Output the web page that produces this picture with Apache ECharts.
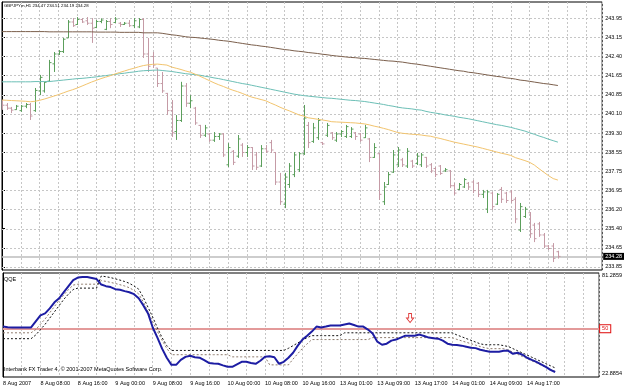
<!DOCTYPE html>
<html>
<head>
<meta charset="utf-8">
<script src="https://cdn.jsdelivr.net/npm/echarts@6/dist/echarts.min.js"></script>
<style>
html, body { margin: 0; padding: 0; background: #fff; }
#chart { width: 625px; height: 388px; }
</style>
</head>
<body>
<div id="chart"></div>
<script>
const symbolName = 'GBPJPYm,H1'
const indicatorName = 'QQE'
const footerText = 'Interbank FX Trader 4, © 2001-2007 MetaQuotes Software Corp.'

// one label every 8 hourly bars
const timeLabels = ['8 Aug 2007', '8 Aug 08:00', '8 Aug 16:00', '9 Aug 00:00', '9 Aug 08:00', '9 Aug 16:00',
  '10 Aug 00:00', '10 Aug 08:00', '10 Aug 16:00', '13 Aug 01:00', '13 Aug 09:00', '13 Aug 17:00',
  '14 Aug 01:00', '14 Aug 09:00', '14 Aug 17:00']

const priceLabels = ['233.85', '234.65', '235.40', '236.20', '236.95', '237.75', '238.55',
  '239.30', '240.10', '240.85', '241.65', '242.40', '243.15', '243.95']

const qqeTop = 81.2859
const qqeBottom = 22.8854
const qqeLevel = 50

// H1 bars, 8 Aug 00:00 .. 14 Aug 23:00
const opens = [
  240.50, 240.42, 240.30, 240.24, 240.20, 240.38, 240.45, 240.20, 241.00, 241.00,
  241.40, 242.10, 242.50, 242.60, 243.15, 243.80, 243.70, 243.90, 243.85, 243.75,
  243.58, 243.82, 243.50, 243.82, 243.78, 243.75, 243.70, 243.75, 243.65, 243.60,
  243.90, 242.50, 242.40, 241.93, 241.30, 240.90, 240.20, 239.35, 239.80, 241.20,
  240.50, 240.30, 239.60, 239.20, 239.25, 239.00, 239.15, 239.25, 238.00, 238.55,
  238.35, 238.80, 238.50, 238.70, 238.40, 237.95, 238.65, 238.90, 238.50, 237.30,
  236.40, 237.20, 237.60, 237.80, 238.45, 239.60, 238.95, 239.10, 238.90, 239.20,
  239.30, 239.00, 239.25, 239.15, 239.15, 239.30, 239.25, 239.10, 239.05, 238.30,
  238.45, 236.50, 237.20, 237.70, 238.00, 238.20, 237.95, 238.15, 238.05, 238.00,
  238.30, 238.00, 237.85, 237.95, 237.75, 237.75, 237.15, 237.00, 237.10, 237.25,
  237.30, 237.25, 236.80, 236.20, 236.85, 236.40, 237.00, 236.85, 236.90, 236.60,
  235.35, 235.90, 236.05, 235.55, 235.60, 235.15, 234.70, 234.70, 234.47]
const highs = [
  240.63, 240.51, 240.35, 240.43, 240.43, 240.51, 240.51, 241.12, 241.65, 241.37,
  242.26, 242.58, 242.66, 243.15, 243.88, 243.96, 244.00, 243.96, 244.00, 243.96,
  243.88, 243.95, 243.88, 243.96, 244.00, 243.80, 243.80, 243.88, 243.96, 243.96,
  243.96, 243.15, 242.58, 241.93, 241.77, 240.92, 240.63, 240.02, 241.37, 241.32,
  240.83, 240.35, 239.62, 239.62, 239.29, 239.33, 239.29, 239.29, 238.88, 238.60,
  239.21, 238.88, 238.80, 238.72, 238.52, 238.80, 238.80, 239.01, 238.52, 237.67,
  237.67, 238.07, 238.52, 238.52, 240.43, 239.74, 239.70, 239.90, 238.93, 239.70,
  239.33, 239.33, 239.41, 239.62, 239.53, 239.33, 239.29, 239.62, 239.09, 238.88,
  238.48, 237.30, 237.71, 238.60, 238.72, 238.28, 238.68, 238.20, 238.48, 238.48,
  238.32, 238.07, 237.91, 237.99, 237.87, 237.79, 237.26, 237.26, 237.46, 237.30,
  237.38, 237.30, 236.98, 236.98, 236.90, 236.85, 237.10, 236.90, 236.98, 236.69,
  236.45, 236.29, 236.08, 235.64, 235.68, 235.23, 234.74, 234.82, 234.51]
const lows = [
  240.23, 240.23, 240.10, 240.23, 240.15, 240.30, 239.82, 240.15, 240.83, 240.93,
  241.37, 241.77, 242.46, 242.54, 243.15, 243.60, 243.68, 243.76, 243.68, 242.95,
  243.55, 243.75, 243.47, 243.55, 243.76, 243.60, 243.68, 243.60, 243.55, 243.55,
  242.34, 241.77, 241.93, 241.16, 240.92, 240.02, 239.13, 239.01, 239.74, 240.35,
  240.30, 239.62, 239.09, 239.13, 238.93, 238.93, 239.01, 238.32, 237.91, 237.99,
  238.28, 238.32, 238.32, 237.79, 237.79, 237.91, 238.48, 238.48, 237.18, 236.37,
  236.24, 237.06, 237.50, 237.71, 238.40, 238.68, 238.89, 239.01, 238.80, 239.13,
  239.01, 238.93, 239.13, 239.09, 239.09, 239.01, 238.93, 239.09, 238.11, 238.28,
  236.57, 236.37, 237.18, 237.67, 237.91, 237.91, 237.87, 237.87, 237.99, 237.91,
  237.87, 237.67, 237.50, 237.59, 237.71, 237.06, 236.77, 236.98, 237.06, 236.98,
  236.85, 236.69, 236.65, 236.04, 236.17, 236.37, 236.45, 236.45, 236.45, 235.63,
  235.27, 235.84, 235.03, 234.86, 235.07, 234.62, 234.54, 234.05, 234.19]
const closes = [
  240.42, 240.30, 240.22, 240.38, 240.38, 240.45, 239.98, 241.02, 241.55, 241.35,
  242.15, 242.50, 242.60, 243.10, 243.80, 243.65, 243.90, 243.80, 243.75, 243.55,
  243.82, 243.88, 243.82, 243.70, 243.92, 243.70, 243.75, 243.65, 243.85, 243.90,
  242.50, 242.00, 242.05, 241.30, 241.00, 240.20, 239.30, 239.80, 241.20, 240.50,
  240.60, 239.70, 239.20, 239.50, 239.00, 239.15, 239.25, 238.40, 238.70, 238.10,
  239.05, 238.50, 238.70, 237.95, 237.90, 238.65, 238.55, 238.60, 237.30, 236.50,
  237.50, 237.95, 238.40, 238.45, 239.90, 238.90, 239.50, 239.80, 238.85, 239.60,
  239.10, 239.25, 239.35, 239.55, 239.45, 239.15, 239.00, 239.50, 238.30, 238.70,
  236.80, 237.10, 237.60, 238.40, 238.60, 238.00, 238.55, 237.95, 238.35, 238.40,
  237.95, 237.75, 237.60, 237.65, 237.80, 237.15, 236.85, 237.20, 237.40, 237.10,
  236.95, 236.80, 236.90, 236.90, 236.30, 236.80, 236.60, 236.55, 236.55, 235.80,
  236.30, 236.20, 235.20, 235.00, 235.15, 234.70, 234.60, 234.20, 234.28]

// moving averages (slow / mid / fast)
const maSlow = [
  243.41, 243.41, 243.41, 243.41, 243.41, 243.41, 243.41, 243.41, 243.41, 243.41,
  243.40, 243.40, 243.40, 243.40, 243.40, 243.40, 243.40, 243.40, 243.40, 243.40,
  243.39, 243.39, 243.39, 243.39, 243.39, 243.38, 243.38, 243.38, 243.38, 243.38,
  243.36, 243.36, 243.36, 243.36, 243.34, 243.31, 243.28, 243.26, 243.23, 243.20,
  243.18, 243.17, 243.15, 243.13, 243.11, 243.09, 243.06, 243.04, 243.02, 242.99,
  242.96, 242.93, 242.90, 242.87, 242.85, 242.82, 242.80, 242.77, 242.74, 242.71,
  242.68, 242.66, 242.63, 242.61, 242.59, 242.56, 242.54, 242.52, 242.49, 242.47,
  242.44, 242.42, 242.40, 242.38, 242.36, 242.35, 242.33, 242.32, 242.30, 242.28,
  242.26, 242.24, 242.22, 242.21, 242.19, 242.17, 242.14, 242.11, 242.09, 242.06,
  242.03, 242.00, 241.97, 241.94, 241.91, 241.88, 241.85, 241.82, 241.80, 241.76,
  241.74, 241.71, 241.68, 241.65, 241.62, 241.59, 241.57, 241.53, 241.51, 241.48,
  241.44, 241.42, 241.39, 241.36, 241.33, 241.30, 241.28, 241.25, 241.22]
const maMid = [
  241.37, 241.37, 241.37, 241.37, 241.37, 241.37, 241.37, 241.38, 241.38, 241.38,
  241.38, 241.40, 241.42, 241.44, 241.46, 241.48, 241.50, 241.51, 241.53, 241.55,
  241.57, 241.60, 241.62, 241.65, 241.67, 241.70, 241.72, 241.75, 241.77, 241.80,
  241.82, 241.83, 241.84, 241.85, 241.83, 241.81, 241.79, 241.76, 241.73, 241.70,
  241.68, 241.66, 241.64, 241.60, 241.57, 241.53, 241.50, 241.46, 241.42, 241.38,
  241.34, 241.30, 241.27, 241.23, 241.19, 241.15, 241.11, 241.07, 241.03, 240.99,
  240.95, 240.91, 240.87, 240.84, 240.81, 240.79, 240.77, 240.75, 240.73, 240.71,
  240.70, 240.68, 240.66, 240.64, 240.62, 240.61, 240.59, 240.57, 240.54, 240.51,
  240.48, 240.45, 240.41, 240.38, 240.34, 240.31, 240.29, 240.27, 240.24, 240.22,
  240.17, 240.13, 240.10, 240.07, 240.03, 240.00, 239.97, 239.93, 239.90, 239.87,
  239.83, 239.79, 239.75, 239.71, 239.67, 239.63, 239.60, 239.56, 239.52, 239.47,
  239.42, 239.37, 239.30, 239.24, 239.17, 239.11, 239.04, 238.98, 238.92]
const maFast = [
  240.63, 240.62, 240.61, 240.60, 240.59, 240.58, 240.56, 240.58, 240.62, 240.67,
  240.73, 240.79, 240.85, 240.92, 240.99, 241.05, 241.12, 241.20, 241.28, 241.36,
  241.43, 241.50, 241.56, 241.62, 241.69, 241.75, 241.81, 241.87, 241.92, 241.98,
  242.03, 242.06, 242.08, 242.09, 242.07, 242.05, 241.97, 241.92, 241.87, 241.81,
  241.76, 241.68, 241.60, 241.51, 241.42, 241.33, 241.25, 241.18, 241.10, 241.03,
  240.97, 240.90, 240.82, 240.75, 240.70, 240.65, 240.60, 240.51, 240.43, 240.34,
  240.26, 240.19, 240.11, 240.03, 239.98, 239.91, 239.88, 239.85, 239.82, 239.79,
  239.75, 239.74, 239.73, 239.72, 239.71, 239.70, 239.68, 239.66, 239.62, 239.57,
  239.53, 239.48, 239.43, 239.37, 239.31, 239.28, 239.26, 239.24, 239.23, 239.21,
  239.18, 239.16, 239.11, 239.07, 239.02, 238.97, 238.92, 238.88, 238.84, 238.80,
  238.76, 238.72, 238.67, 238.62, 238.57, 238.52, 238.47, 238.43, 238.38, 238.29,
  238.23, 238.17, 238.10, 237.99, 237.84, 237.70, 237.56, 237.44, 237.38]

// QQE pane
const qqeMain = [
  51.2, 50.8, 50.7, 50.7, 50.7, 50.7, 50.7, 54.1, 57.5, 58.6,
  61.4, 64.8, 67.1, 70.5, 73.9, 77.3, 78.7, 79.0, 79.0, 78.5,
  77.9, 74.8, 73.9, 73.4, 72.2, 71.9, 71.1, 70.5, 69.4, 67.1,
  63.1, 58.6, 50.7, 45.0, 38.8, 33.7, 29.7, 29.7, 32.5, 34.2,
  34.8, 34.0, 33.7, 32.3, 30.8, 30.5, 30.3, 29.4, 28.6, 28.6,
  30.0, 31.4, 31.4, 30.8, 30.3, 32.0, 34.2, 34.5, 34.0, 30.3,
  31.4, 33.7, 36.5, 40.5, 43.9, 46.1, 48.4, 51.2, 50.7, 51.2,
  51.8, 51.8, 51.8, 52.4, 52.9, 52.1, 51.2, 51.2, 49.5, 47.3,
  42.7, 41.0, 41.6, 43.3, 43.9, 45.0, 46.1, 46.1, 46.1, 46.7,
  45.9, 45.0, 44.7, 44.4, 43.3, 41.6, 41.0, 40.8, 40.5, 39.9,
  39.3, 39.1, 38.2, 37.6, 37.1, 37.1, 37.1, 37.6, 37.6, 35.9,
  36.5, 35.4, 33.7, 32.5, 31.4, 30.0, 28.6, 26.9, 25.7]
const trailSlow = [
  44.4, 44.4, 44.4, 44.4, 44.4, 44.4, 44.4, 46.5, 49.5, 52.5,
  56.0, 59.5, 63.0, 66.5, 69.5, 72.0, 72.8, 72.8, 72.8, 72.8,
  72.8, 79.6, 79.2, 78.7, 78.0, 77.3, 76.5, 75.5, 74.0, 72.2,
  67.5, 62.0, 56.5, 50.5, 45.0, 40.5, 37.8, 37.8, 37.8, 37.8,
  37.8, 37.8, 37.8, 37.8, 37.8, 37.8, 37.8, 37.8, 37.8, 37.8,
  37.8, 37.8, 37.8, 37.8, 37.8, 37.8, 37.8, 37.8, 37.8, 37.8,
  37.8, 39.0, 40.5, 42.0, 43.5, 45.0, 46.1, 46.1, 46.1, 46.1,
  46.1, 46.1, 46.1, 47.7, 47.7, 47.7, 47.7, 47.7, 47.7, 47.7,
  47.7, 47.7, 47.7, 47.7, 47.7, 47.7, 47.7, 47.7, 47.7, 47.7,
  47.7, 47.7, 47.7, 47.7, 47.7, 47.7, 47.7, 46.5, 45.5, 44.5,
  43.5, 42.5, 41.5, 41.0, 41.0, 41.0, 41.0, 40.5, 40.0, 38.8,
  37.6, 36.4, 35.2, 34.0, 32.8, 31.6, 30.4, 29.2, 28.0]
const trailFast = [
  47.7, 47.7, 47.7, 47.7, 47.7, 47.7, 47.7, 49.5, 52.5, 55.5,
  59.0, 62.5, 66.0, 69.0, 72.0, 74.5, 75.0, 75.0, 75.0, 75.0,
  75.0, 77.0, 76.6, 76.0, 75.4, 74.7, 74.0, 73.0, 71.5, 69.5,
  65.0, 59.5, 54.0, 48.5, 43.5, 39.0, 35.4, 35.4, 35.4, 35.4,
  35.4, 35.4, 35.4, 35.4, 35.4, 35.4, 35.4, 35.4, 35.4, 34.2,
  34.2, 34.2, 34.2, 34.2, 34.2, 34.2, 34.2, 29.7, 29.7, 29.7,
  29.7, 29.7, 33.0, 36.0, 39.0, 41.5, 43.9, 43.9, 43.9, 43.9,
  43.9, 43.9, 43.9, 43.9, 43.9, 43.9, 43.9, 43.9, 43.9, 45.0,
  45.0, 45.0, 45.0, 45.0, 45.0, 45.0, 45.0, 45.0, 45.0, 45.0,
  45.0, 45.0, 45.0, 45.0, 45.0, 45.0, 45.0, 44.0, 43.2, 42.4,
  41.6, 40.8, 40.0, 39.3, 38.8, 38.8, 38.8, 38.8, 38.0, 36.8,
  35.6, 34.4, 33.2, 32.0, 30.8, 29.6, 28.4, 27.2, 26.0]

// sell arrow drawn on the QQE pane
const arrowBar = 87
const arrowValue = 56

// price scale: the terminal spaces its labels evenly, so tick k sits at base + k * step
const priceBase = 233.85
const priceStep = (243.95 - 233.85) / 13
const priceTicks = priceLabels.map((_, k) => priceBase + k * priceStep)

const last = opens.length - 1
const lastClose = closes[last]

const bars = opens.map((o, i) => [i, o, highs[i], lows[i], closes[i]])
const pairs = arr => arr.map((v, i) => [i, v])

const font = 'Liberation Sans'
const small = { fontFamily: font, fontSize: 5.5, color: '#000' }
const dotted = { color: '#c6c6c6', type: [2, 2], width: 1 }

const upColor = '#5c9f5c'
const downColor = '#c59ba6'

const chart = echarts.init(document.getElementById('chart'), null, { renderer: 'canvas' })

const option = {
  animation: false,
  backgroundColor: '#fff',
  title: [
    {
      text: symbolName + ' ' + [opens[last], highs[last], lows[last], closes[last]].map(v => v.toFixed(2)).join(' '),
      left: 4, top: 4, padding: 0,
      textStyle: { ...small, fontSize: 4.3, fontWeight: 'normal' }
    },
    { text: indicatorName, left: 4, top: 276, padding: 0, textStyle: { ...small, fontWeight: 'normal' } },
    { text: footerText, left: 4, top: 366, padding: 0, textStyle: { ...small, fontWeight: 'normal' } }
  ],
  grid: [
    { left: 2, top: 2, width: 601, height: 268, show: true, borderColor: '#000', borderWidth: 1, backgroundColor: '#fff' },
    { left: 2, top: 273, width: 601, height: 104, show: true, borderColor: '#000', borderWidth: 1, backgroundColor: '#fff' }
  ],
  xAxis: [
    {
      gridIndex: 0, type: 'value', min: 0, max: 127.4, interval: 4,
      axisLine: { show: false }, axisTick: { show: false }, axisLabel: { show: false },
      splitLine: { show: true, lineStyle: dotted }
    },
    {
      gridIndex: 1, type: 'value', min: 0, max: 127.4, interval: 4,
      axisLine: { show: false }, axisTick: { show: false },
      axisLabel: {
        ...small, margin: 3, align: 'left', showMaxLabel: false,
        formatter: v => (v % 8 === 0 && timeLabels[v / 8]) || ''
      },
      splitLine: { show: true, lineStyle: dotted }
    }
  ],
  yAxis: [
    {
      gridIndex: 0, type: 'value', position: 'right',
      min: 233.727, max: 244.612,
      axisLine: { show: true, lineStyle: { color: '#000' } },
      axisTick: { show: true, length: 3, lineStyle: { color: '#000' }, customValues: priceTicks },
      axisLabel: {
        ...small, margin: 3, customValues: priceTicks,
        formatter: v => priceLabels[Math.round((v - priceBase) / priceStep)] || ''
      },
      splitLine: { show: false }
    },
    {
      gridIndex: 1, type: 'value', position: 'right',
      min: qqeBottom, max: qqeTop,
      axisLine: { show: true, lineStyle: { color: '#000' } },
      axisTick: { show: false },
      axisLabel: {
        margin: 3,
        formatter: v => {
          if (Math.abs(v - qqeTop) < 1e-6) return '{t|' + qqeTop.toFixed(4) + '}'
          if (Math.abs(v - qqeBottom) < 1e-6) return '{b|' + qqeBottom.toFixed(4) + '}'
          return ''
        },
        rich: {
          t: { ...small, padding: [5, 0, 0, 0] },
          b: { ...small, padding: [0, 0, 7, 0] }
        }
      },
      splitLine: { show: false }
    }
  ],
  series: [
    {
      name: 'price',
      type: 'custom',
      xAxisIndex: 0, yAxisIndex: 0,
      clip: true,
      z: 3,
      encode: { x: 0, y: [1, 2, 3, 4] },
      data: bars,
      renderItem: (params, api) => {
        const x = api.value(0)
        const o = api.coord([x, api.value(1)])
        const h = api.coord([x, api.value(2)])
        const l = api.coord([x, api.value(3)])
        const c = api.coord([x, api.value(4)])
        const color = api.value(4) >= api.value(1) ? upColor : downColor
        const px = Math.round(h[0]) + 0.5
        const st = { stroke: color, lineWidth: 1 }
        return {
          type: 'group',
          children: [
            { type: 'line', shape: { x1: px, y1: h[1], x2: px, y2: l[1] }, style: st },
            { type: 'line', shape: { x1: px - 2, y1: o[1], x2: px, y2: o[1] }, style: st },
            { type: 'line', shape: { x1: px, y1: c[1], x2: px + 2, y2: c[1] }, style: st }
          ]
        }
      }
    },
    {
      name: 'MA slow', type: 'line', xAxisIndex: 0, yAxisIndex: 0, z: 4,
      data: pairs(maSlow), showSymbol: false, lineStyle: { color: '#7b5f4c', width: 1 },
      markLine: {
        silent: true, symbol: 'none', z: 1,
        data: [
          // horizontal price grid
          ...priceTicks.map(v => ({ yAxis: v, lineStyle: dotted, label: { show: false } })),
          // current price
          {
            yAxis: lastClose,
            lineStyle: { color: '#bdbdbd', type: 'solid', width: 1.5 },
            label: {
              show: true, position: 'end', distance: 1, formatter: lastClose.toFixed(2),
              backgroundColor: '#000', color: '#fff', padding: [1, 2, 0, 2],
              fontFamily: font, fontSize: 5.5
            }
          }
        ]
      }
    },
    {
      name: 'MA mid', type: 'line', xAxisIndex: 0, yAxisIndex: 0, z: 4,
      data: pairs(maMid), showSymbol: false, lineStyle: { color: '#6cbfb6', width: 1 }
    },
    {
      name: 'MA fast', type: 'line', xAxisIndex: 0, yAxisIndex: 0, z: 4,
      data: pairs(maFast), showSymbol: false, lineStyle: { color: '#f2c46e', width: 1 }
    },
    {
      name: 'trail slow', type: 'line', xAxisIndex: 1, yAxisIndex: 1, z: 3,
      data: pairs(trailSlow), showSymbol: false, lineStyle: { color: '#111', width: 1, type: [2, 2] }
    },
    {
      name: 'trail fast', type: 'line', xAxisIndex: 1, yAxisIndex: 1, z: 3,
      data: pairs(trailFast), showSymbol: false, lineStyle: { color: '#8d7a6c', width: 1, type: [2, 2] }
    },
    {
      name: 'QQE', type: 'line', xAxisIndex: 1, yAxisIndex: 1, z: 4,
      data: pairs(qqeMain), showSymbol: false, lineStyle: { color: '#1d1da3', width: 2 },
      markLine: {
        silent: true, symbol: 'none', z: 2,
        data: [{ yAxis: qqeLevel }],
        lineStyle: { color: '#e39a9a', type: 'solid', width: 2 },
        label: {
          position: 'end', distance: 1, formatter: String(qqeLevel),
          color: '#e01010', backgroundColor: '#fff', borderColor: '#e01010', borderWidth: 1,
          padding: [1, 2, 0, 2], fontFamily: font, fontSize: 5.5
        }
      },
      markPoint: {
        silent: true,
        data: [{ coord: [arrowBar, arrowValue] }],
        symbol: 'path://M3,0 L7,0 L7,6 L10,6 L5,12 L0,6 L3,6 Z',
        symbolSize: [7, 9],
        itemStyle: { color: 'rgba(255,255,255,0)', borderColor: '#e03a3a', borderWidth: 1 },
        label: { show: false }
      }
    }
  ]
}

chart.setOption(option)
</script>
</body>
</html>
